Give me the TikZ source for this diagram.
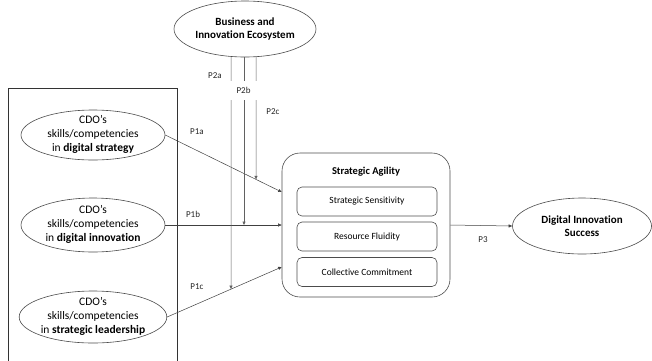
\documentclass[tikz,border=0pt]{standalone}
\usepackage{fontspec}
\setmainfont[Ligatures=NoCommon]{Carlito}
\usetikzlibrary{arrows.meta,calc,shapes.geometric}
\newcommand{\ovaltext}[3]{\smash{\raisebox{-2.8pt}{\begin{tabular}{@{}c@{}}#1\\#2\\#3\end{tabular}}}}
\begin{document}
\begin{tikzpicture}[x=1pt,y=-1pt,
  every node/.style={font=\fontsize{11.5}{14}\selectfont},
  oval/.style={ellipse,draw=black!70,line width=0.6pt,inner sep=0pt,fill=white},
  lbl/.style={font=\fontsize{9}{11}\selectfont,text=black!85,inner sep=1pt},
  conn/.style={draw=black!75,line width=0.5pt,-{Triangle[length=3.5pt,width=3pt]}},
  vline/.style={draw=black!62,line width=0.5pt,-{Triangle[length=3.5pt,width=3pt]}},
  subbox/.style={draw=black!70,line width=0.6pt,rounded corners=5pt,minimum width=140pt,minimum height=29pt,inner sep=0pt,font=\fontsize{9.5}{11}\selectfont}
]
\useasboundingbox (0,0) rectangle (652,360);
% left frame
\draw[black!80,line width=0.6pt] (8,361) -- (8,88) -- (177,88) -- (177,361);
% ellipses
\node[oval,minimum width=144pt,minimum height=50pt] (e1) at (93,135) {\ovaltext{CDO’s}{skills/competencies}{in \textbf{digital strategy}}};
\node[oval,minimum width=144pt,minimum height=54pt] (e2) at (93,225) {\ovaltext{CDO’s}{skills/competencies}{in \textbf{digital innovation}}};
\node[oval,minimum width=144pt,minimum height=52pt] (e3) at (93,317) {\ovaltext{CDO’s}{skills/competencies}{in \textbf{strategic leadership}}};
\node[oval,minimum width=142pt,minimum height=56pt,align=center,font=\bfseries\fontsize{11}{13.5}\selectfont] (biz) at (245,29) {Business and\\Innovation Ecosystem};
\node[oval,minimum width=139pt,minimum height=56pt,align=center,font=\bfseries\fontsize{11}{13.5}\selectfont] (dis) at (582,226) {Digital Innovation\\Success};
% strategic agility
\node[draw=black!70,line width=0.6pt,rounded corners=18pt,minimum width=168pt,minimum height=144pt,inner sep=0pt] (sa) at (366,225) {};
\node[font=\bfseries\fontsize{10.5}{12}\selectfont] (sat) at (366,172) {Strategic Agility};
\node[subbox] (ss) at (367,201.5) {Strategic Sensitivity};
\node[subbox] (rf) at (367,236.5) {Resource Fluidity};
\node[subbox] (cc) at (367,272) {Collective Commitment};
% P1 connectors
\coordinate (a1) at ($(sa.west)+(0,-33)$);
\coordinate (a2) at (sa.west);
\coordinate (a3) at ($(sa.west)+(0,42)$);
\draw[conn] (e1.east) -- (a1);
\draw[conn] (e2.east) -- (a2);
\draw[conn] (e3.east) -- (a3);
\draw[conn] (sa.east) -- (dis.west);
% P2 vertical lines
\coordinate (v1) at ($(biz.south)+(-14,-0.5)$);
\coordinate (v2) at ($(biz.south)+(-1,0)$);
\coordinate (v3) at ($(biz.south)+(11,-0.3)$);
\coordinate (v1b) at ($(v1)+(0,300)$);
\coordinate (v2b) at ($(v2)+(0,300)$);
\coordinate (v3b) at ($(v3)+(0,300)$);
\draw[vline] (v1) -- (intersection of v1--v1b and e3.east--a3);
\draw[vline] (v2) -- (intersection of v2--v2b and e2.east--a2);
\draw[vline] (v3) -- (intersection of v3--v3b and e1.east--a1);
% labels
\node[lbl] (p2a) at (215,76) {P2a};
\node[lbl,fill=white,minimum width=32pt,minimum height=19pt] (p2b) at (243.5,90) {P2b};
\node[lbl] (p2c) at (273,112) {P2c};
\node[lbl] (p1a) at (197,132) {P1a};
\node[lbl] (p1b) at (193,214) {P1b};
\node[lbl] (p1c) at (197,287) {P1c};
\node[lbl] (p3) at (483,240) {P3};
\end{tikzpicture}
\end{document}
